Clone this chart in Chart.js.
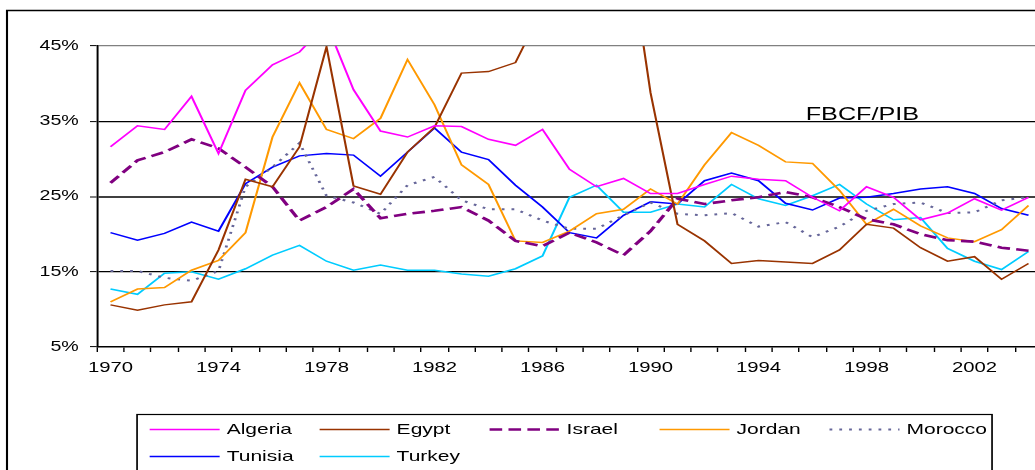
<!DOCTYPE html>
<html>
<head>
<meta charset="utf-8">
<script src="https://cdn.jsdelivr.net/npm/chart.js@4"></script>
<style>
  html, body { margin: 0; padding: 0; background: #fff; overflow: hidden; }
  canvas { display: block; }
</style>
</head>
<body>
<canvas id="myChart" width="1035" height="470"></canvas>
<script>
'use strict';

// years 1970 - 2004
const years = [];
for (let y = 1970; y <= 2004; y++) years.push(String(y));

const yTicks = [5, 15, 25, 35, 45];

const algeria = [31.6, 34.4, 33.9, 38.3, 30.7, 39.1, 42.5, 44.2, 48.0, 39.2,
  33.7, 32.9, 34.4, 34.3, 32.6, 31.8, 33.9, 28.6, 26.3, 27.4,
  25.4, 25.4, 26.6, 27.7, 27.3, 27.1, 24.9, 23.1, 26.3, 24.9,
  21.9, 22.8, 24.7, 23.2, 24.9];
const egypt = [10.6, 9.9, 10.6, 11.0, 17.9, 27.3, 26.3, 31.6, 44.9, 26.4,
  25.3, 30.9, 34.2, 41.4, 41.6, 42.8, 50.0, 56.0, 60.0, 63.0,
  38.8, 21.3, 19.1, 16.1, 16.5, 16.3, 16.1, 17.9, 21.3, 20.8,
  18.2, 16.4, 17.0, 14.0, 16.1];
const israel = [26.8, 29.8, 30.9, 32.6, 31.4, 28.9, 26.3, 21.8, 23.6, 26.0,
  22.1, 22.7, 23.1, 23.6, 21.8, 19.1, 18.4, 20.2, 18.9, 17.2,
  20.4, 24.7, 24.0, 24.5, 24.9, 25.6, 24.9, 23.6, 22.0, 21.3,
  20.0, 19.2, 19.0, 18.2, 17.8];
const jordan = [11.0, 12.7, 12.9, 15.2, 16.5, 20.2, 32.9, 40.1, 33.9, 32.7,
  35.4, 43.2, 37.2, 29.2, 26.6, 19.1, 18.9, 20.4, 22.7, 23.3,
  26.0, 24.0, 29.2, 33.5, 31.8, 29.6, 29.4, 25.8, 21.3, 23.3,
  21.1, 19.5, 19.0, 20.6, 23.8];
const morocco = [15.1, 15.1, 14.2, 13.8, 15.1, 26.3, 28.9, 32.1, 25.1, 24.2,
  22.7, 26.5, 27.6, 24.5, 23.3, 23.3, 21.8, 20.7, 20.7, 22.5,
  24.2, 22.7, 22.5, 22.8, 21.0, 21.6, 19.6, 21.0, 23.1, 24.0,
  24.2, 22.8, 22.9, 24.5, 24.9];
const tunisia = [20.2, 19.2, 20.1, 21.6, 20.4, 26.7, 28.9, 30.4, 30.7, 30.5,
  27.7, 30.9, 34.1, 30.9, 29.9, 26.5, 23.6, 20.2, 19.5, 22.5,
  24.3, 24.0, 27.1, 28.1, 27.1, 24.1, 23.2, 24.8, 24.9, 25.4,
  26.0, 26.3, 25.4, 23.4, 22.5];
const turkey = [12.7, 12.0, 14.8, 15.0, 14.0, 15.4, 17.2, 18.5, 16.4, 15.2,
  15.9, 15.2, 15.2, 14.7, 14.4, 15.4, 17.1, 24.9, 26.5, 22.9,
  22.9, 24.0, 23.6, 26.6, 24.7, 23.8, 25.1, 26.6, 24.0, 21.9,
  22.2, 18.1, 16.4, 15.3, 17.7];

const titleText = 'FBCF/PIB';

// the picture is stretched sideways, so draw everything scaled on x
const SX = 1.4;

function series(label, data, color, width, dash) {
  return {
    label: label,
    data: data,
    borderColor: color,
    backgroundColor: color,
    borderWidth: width,
    borderDash: dash || [],
    pointRadius: 0,
    tension: 0,
    fill: false
  };
}

const datasets = [
  series('Algeria', algeria, '#ff00ff', 1.5),
  series('Egypt', egypt, '#993300', 1.5),
  series('Israel', israel, '#800080', 2.6, [9, 4.5]),
  series('Jordan', jordan, '#ff9900', 1.5),
  series('Morocco', morocco, '#666699', 2, [2, 5]),
  series('Tunisia', tunisia, '#0000ff', 1.5),
  series('Turkey', turkey, '#00ccff', 1.5)
];

// stretch + frame, title and boxed legend
const stretchPlugin = {
  id: 'stretch',
  beforeDraw(chart) {
    chart.ctx.save();
    chart.ctx.scale(SX, 1);
  },
  afterDraw(chart) {
    const c = chart.ctx;
    c.lineWidth = 1.5;
    c.strokeStyle = '#000';
    c.strokeRect(5, 10.5, 1000, 600);

    c.font = '18px "Liberation Sans", Arial, sans-serif';
    c.fillStyle = '#000';
    c.textAlign = 'center';
    c.textBaseline = 'alphabetic';
    c.fillText(titleText, 616, 120);

    c.lineWidth = 1.2;
    c.strokeRect(97.9, 414.5, 610.7, 100);

    c.font = '15px "Liberation Sans", Arial, sans-serif';
    c.textAlign = 'left';
    c.textBaseline = 'middle';
    chart.data.datasets.forEach((ds, i) => {
      const col = i % 5;
      const row = Math.floor(i / 5);
      const x = 106.9 + col * 121.4;
      const y = 429.5 + row * 27;
      c.save();
      c.strokeStyle = ds.borderColor;
      c.lineWidth = Math.min(ds.borderWidth, 2.5);
      c.setLineDash(ds.borderDash);
      c.beginPath();
      c.moveTo(x, y);
      c.lineTo(x + 50, y);
      c.stroke();
      c.restore();
      c.fillStyle = '#000';
      c.fillText(ds.label, x + 55, y);
    });

    c.restore();
  }
};

Chart.defaults.font.family = '"Liberation Sans", Arial, sans-serif';
Chart.defaults.color = '#000';

const ctx = document.getElementById('myChart');

new Chart(ctx, {
  type: 'line',
  data: {
    labels: years,
    datasets: datasets
  },
  options: {
    responsive: false,
    animation: false,
    devicePixelRatio: 1,
    layout: {
      padding: { left: 0, top: 46, right: 1035 - 744.3, bottom: 0 }
    },
    plugins: {
      legend: { display: false },
      title: { display: false },
      tooltip: { enabled: false }
    },
    scales: {
      x: {
        offset: true,
        grid: {
          offset: true,
          drawOnChartArea: false,
          drawTicks: true,
          tickLength: 5,
          color: '#000',
          lineWidth: 1
        },
        border: { color: '#000', width: 1.5 },
        ticks: {
          autoSkip: false,
          maxRotation: 0,
          padding: 7,
          font: { size: 14.5 },
          callback: (v, i) => (i % 4 === 0 ? years[i] : '')
        },
        afterFit: (scale) => { scale.height = 470 - 347; }
      },
      y: {
        min: yTicks[0],
        max: yTicks[yTicks.length - 1],
        afterBuildTicks: (scale) => {
          scale.ticks = yTicks.map(v => ({ value: v }));
        },
        grid: {
          color: (c) => {
            const v = c.tick && c.tick.value;
            if (v === 45) return '#808080';
            if (v === 25) return '#404040';
            if (v === 5) return 'rgba(0,0,0,0)';
            return '#000';
          },
          lineWidth: (c) => (c.tick && c.tick.value === 25 ? 2 : 1.2),
          drawTicks: true,
          tickLength: 5,
          tickColor: '#000',
          tickWidth: 1
        },
        border: { color: '#000', width: 1.4 },
        ticks: {
          padding: 8,
          font: { size: 14 },
          callback: (v) => v + '%'
        },
        afterFit: (scale) => { scale.width = 97 / SX; }
      }
    }
  },
  plugins: [stretchPlugin]
});
</script>
</body>
</html>
